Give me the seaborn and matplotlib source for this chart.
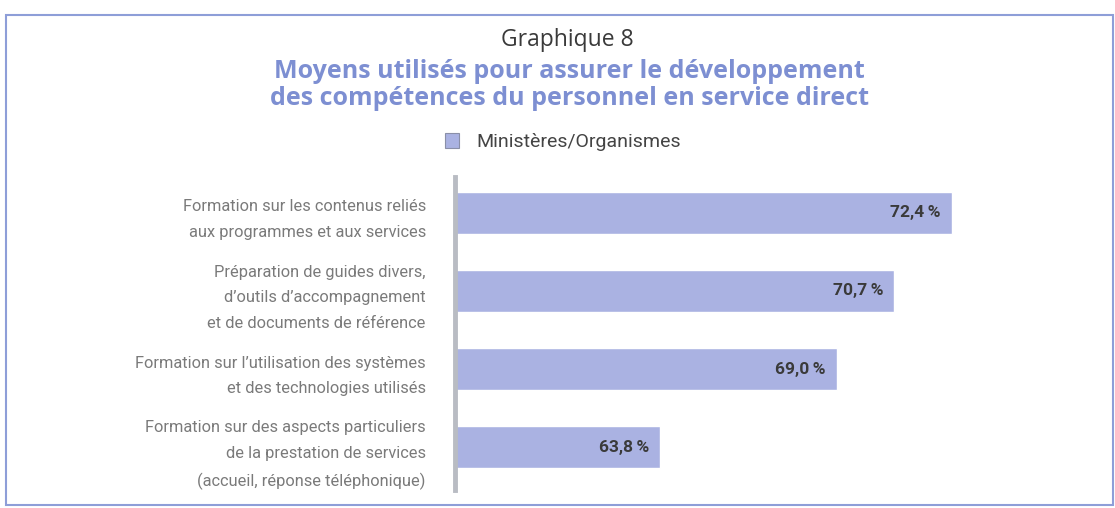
import pandas as pd
import seaborn as sns
import matplotlib.pyplot as plt
from matplotlib.patches import Rectangle

categories = [
    'Formation sur les contenus reliés\naux programmes et aux services',
    'Préparation de guides divers,\nd\u2019outils d\u2019accompagnement\net de documents de référence',
    'Formation sur l\u2019utilisation des systèmes\net des technologies utilisés',
    'Formation sur des aspects particuliers\nde la prestation de services\n(accueil, réponse téléphonique)',
]
values = [72.4, 70.7, 69.0, 63.8]
series_name = 'Ministères/Organismes'

bar_color = '#aab2e2'
title_blue = '#7d8fd2'
label_grey = '#7a7a7a'

df = pd.DataFrame({'cat': categories, 'val': values})

sns.set_style('white')
plt.rcParams['font.family'] = ['Roboto', 'DejaVu Sans']

fig = plt.figure(figsize=(11.15, 5.08), dpi=100)
ax = fig.add_axes([455/1115, 1 - 490/508, 600/1115, (490 - 177)/508])

sns.barplot(data=df, x='val', y='cat', orient='h', color=bar_color,
            width=0.53, saturation=1, ax=ax, label=series_name)
if ax.get_legend() is not None:
    ax.get_legend().remove()

ax.set_xlim(57.76, 57.76 + 600/33.95)
ax.set_ylim(3.55, -0.46)
ax.set_xlabel('')
ax.set_ylabel('')
ax.set_xticks([])
sns.despine(ax=ax, top=True, right=True, bottom=True, left=False)
ax.spines['left'].set_color('#b9bcc3')
ax.spines['left'].set_linewidth(3.5)
ax.tick_params(axis='y', length=0, pad=21, labelsize=11.8, labelcolor=label_grey)
for t in ax.get_yticklabels():
    t.set_linespacing(1.9)
    t.set_ha('right')

labels = [f'{v:.1f}'.replace('.', ',') + '\u2009%' for v in values]
anns = ax.bar_label(ax.containers[0], labels=labels, padding=-8,
                    fontsize=12.5, fontweight='bold', color='#3a3a3a')
for a in anns:
    a.set_ha('right')

fig.text(0.509, 1 - 40/508, 'Graphique 8', ha='center', va='center',
         fontsize=16.5, color='#3a3a3a', family=['Open Sans', 'DejaVu Sans'])
fig.text(0.511, 1 - 85/508,
         'Moyens utilisés pour assurer le développement\ndes compétences du personnel en service direct',
         ha='center', va='center', fontsize=18, fontweight='bold', color=title_blue,
         family=['Open Sans', 'DejaVu Sans'], linespacing=1.15)

leg = fig.legend(loc='center', bbox_to_anchor=(0.505, 1 - 142/508), frameon=False,
                 fontsize=14, handlelength=0.7, handleheight=0.8, handletextpad=0.9)
for h in leg.legend_handles:
    h.set_edgecolor('#8a8fa8')
    h.set_linewidth(0.8)
for t in leg.get_texts():
    t.set_color('#444444')

fig.patches.append(Rectangle((6/1115, 3/508), 1 - 8/1115, 1 - 18/508,
                             transform=fig.transFigure, fill=False,
                             edgecolor='#8e9ed8', linewidth=1.5))

fig.savefig('out.png', dpi=100)
